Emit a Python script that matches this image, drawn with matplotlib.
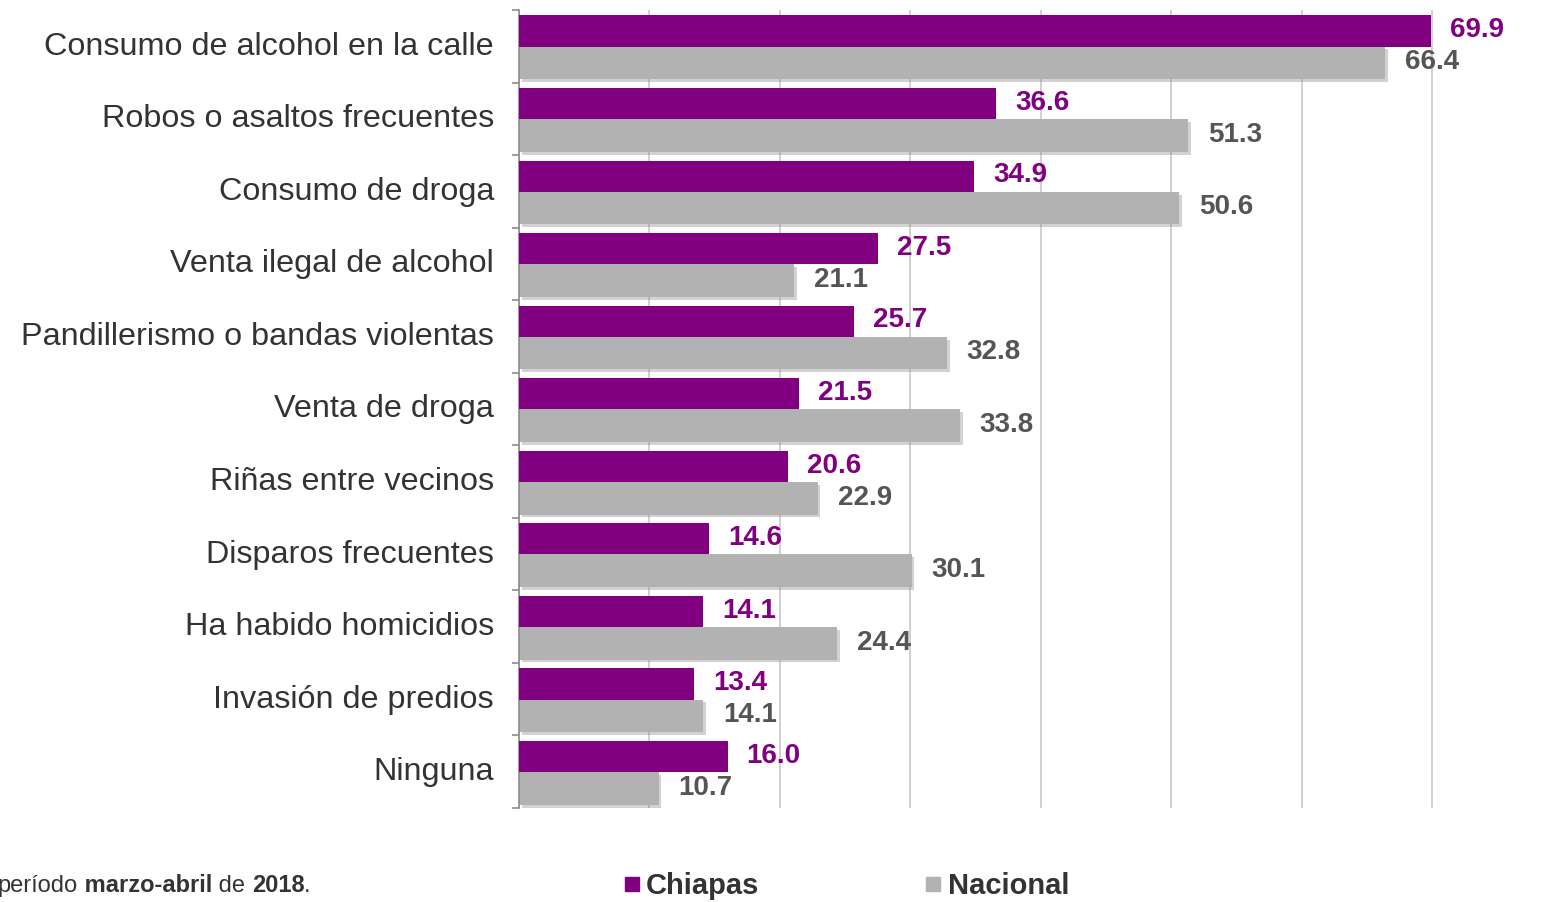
import numpy as np
import matplotlib
matplotlib.use('Agg')
import matplotlib.pyplot as plt
import matplotlib.patheffects as pe
import matplotlib.transforms as mtransforms
from matplotlib.lines import Line2D

# Datos (porcentaje), de arriba hacia abajo
categorias = [
    'Consumo de alcohol en la calle',
    'Robos o asaltos frecuentes',
    'Consumo de droga',
    'Venta ilegal de alcohol',
    'Pandillerismo o bandas violentas',
    'Venta de droga',
    'Riñas entre vecinos',
    'Disparos frecuentes',
    'Ha habido homicidios',
    'Invasión de predios',
    'Ninguna',
]
chiapas = [69.9, 36.6, 34.9, 27.5, 25.7, 21.5, 20.6, 14.6, 14.1, 13.4, 16.0]
nacional = [66.4, 51.3, 50.6, 21.1, 32.8, 33.8, 22.9, 30.1, 24.4, 14.1, 10.7]
series = ['Chiapas', 'Nacional']

PURPLE = '#800080'
GRAY = '#b2b2b2'
TXT = '#333333'

plt.rcParams['font.family'] = ['Liberation Sans', 'DejaVu Sans']

W, H = 1544, 902
fig = plt.figure(figsize=(W / 100, H / 100), dpi=100)
ax = fig.add_axes([519 / W, 1 - 808 / H, (1458 - 519) / W, (808 - 10) / H])

y = np.arange(len(categorias))
ax.barh(y - 0.21, chiapas, height=0.43, color=PURPLE, zorder=3)
bars_nac = ax.barh(y + 0.23, nacional, height=0.45, color=GRAY, zorder=2)
for b in bars_nac:
    b.set_path_effects([pe.withSimplePatchShadow(offset=(2, -2), shadow_rgbFace='#808080', alpha=0.35)])

# value labels
for yy, v in zip(y, chiapas):
    ax.annotate(f'{v:.1f}', xy=(v, yy - 0.22), xytext=(19, 0), textcoords='offset pixels',
                va='center', ha='left', fontsize=20, fontweight='bold', color=PURPLE, zorder=5)
for yy, v in zip(y, nacional):
    ax.annotate(f'{v:.1f}', xy=(v, yy + 0.22), xytext=(20, 0), textcoords='offset pixels',
                va='center', ha='left', fontsize=20, fontweight='bold', color='#555555', zorder=5)

ax.set_xlim(0, 72)
ax.set_ylim(len(categorias) - 0.5, -0.5)
ax.set_xticks(np.arange(0, 71, 10))
ax.set_xticklabels([])
ax.tick_params(axis='x', length=0)
ax.grid(axis='x', color='#c4c4c4', linewidth=1.1, zorder=0)
ax.set_axisbelow(True)

ax.set_yticks(y)
ax.set_yticklabels(categorias, fontsize=23.3, color=TXT)
ax.set_yticks(np.arange(-0.5, len(categorias), 1), minor=True)
ax.tick_params(axis='y', which='major', length=0, pad=18)
ax.tick_params(axis='y', which='minor', length=5, width=1.2, color='#8c8c8c')
nudge = mtransforms.ScaledTranslation(0, 3 / 100, fig.dpi_scale_trans)
for lab in ax.get_yticklabels():
    lab.set_transform(lab.get_transform() + nudge)

for s in ['top', 'right', 'bottom']:
    ax.spines[s].set_visible(False)
ax.spines['left'].set_color('#8c8c8c')
ax.spines['left'].set_linewidth(1.2)

# footer note (cut off on the left as in the original)
fy = 1 - 886 / H
t = fig.text(-0.0015, fy, 'período', fontsize=17, color='#333333', va='center')
for piece, wt in [(' marzo-abril', 'bold'), (' de ', 'normal'), ('2018', 'bold'), ('.', 'normal')]:
    t = ax.annotate(piece, xy=(1, 0), xycoords=t, va='bottom', ha='left',
                    fontsize=17, fontweight=wt, color='#333333')

# legend
handles = [Line2D([], [], marker='s', linestyle='none', markersize=10, color=PURPLE),
           Line2D([], [], marker='s', linestyle='none', markersize=10, color=GRAY)]
fig.legend(handles, series, loc='center left', bbox_to_anchor=(598 / W, fy),
           ncol=2, frameon=False, handlelength=0.5, handletextpad=0.25,
           columnspacing=5.7, labelcolor=TXT, prop={'weight': 'bold', 'size': 21})

fig.savefig('out.png', dpi=100)
